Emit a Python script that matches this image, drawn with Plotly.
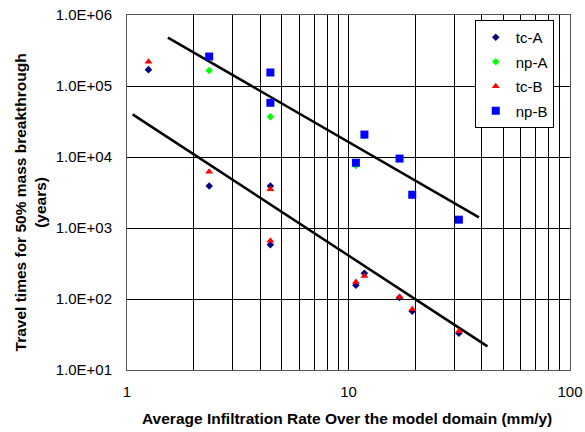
import plotly.graph_objects as go

# Data
tcA_x = [1.25, 2.35, 4.44, 4.44, 10.8, 11.8, 17.0, 19.4, 31.5]
tcA_y = [1.7e5, 3.9e3, 3.9e3, 5.8e2, 1.56e2, 2.3e2, 1.05e2, 67, 33]
npA_x = [2.35, 4.44, 10.8, 11.8, 17.0, 19.4, 31.5]
npA_y = [1.65e5, 3.7e4, 7.6e3, 2.0e4, 9.5e3, 2.9e3, 1.3e3]
tcB_x = [1.25, 2.35, 4.44, 4.44, 10.8, 11.8, 17.0, 19.4, 31.5]
tcB_y = [2.2e5, 6.2e3, 3.5e3, 6.6e2, 1.74e2, 2.1e2, 1.07e2, 72, 35]
npB_x = [2.35, 4.44, 4.44, 10.8, 11.8, 17.0, 19.4, 31.5]
npB_y = [2.6e5, 1.55e5, 5.8e4, 8.3e3, 2.07e4, 9.5e3, 2.94e3, 1.31e3]

fit_upper_x = [1.53, 38.8]
fit_upper_y = [4.8e5, 1.41e3]
fit_lower_x = [1.06, 42.4]
fit_lower_y = [3.98e4, 21.5]

y_tickvals = [1e1, 1e2, 1e3, 1e4, 1e5, 1e6]
y_ticktext = ["1.0E+01", "1.0E+02", "1.0E+03", "1.0E+04", "1.0E+05", "1.0E+06"]
x_tickvals = [1, 2, 3, 4, 5, 6, 7, 8, 9, 10, 20, 30, 40, 50, 60, 70, 80, 90, 100]
x_ticktext = ["1", "", "", "", "", "", "", "", "", "10", "", "", "", "", "", "", "", "", "100"]

x_title = "Average Infiltration Rate Over the model domain (mm/y)"
y_title = "Travel times for 50% mass breakthrough<br>(years)"

FONT = "Liberation Sans, Arial, sans-serif"
TICK = 15
TITLE = 15.5

fig = go.Figure()
fig.add_trace(go.Scatter(x=fit_upper_x, y=fit_upper_y, mode="lines",
                         line=dict(color="black", width=2.5), showlegend=False, hoverinfo="skip"))
fig.add_trace(go.Scatter(x=fit_lower_x, y=fit_lower_y, mode="lines",
                         line=dict(color="black", width=2.5), showlegend=False, hoverinfo="skip"))

fig.add_trace(go.Scatter(x=tcA_x, y=tcA_y, mode="markers", name="tc-A", legendgroup="a",
                         marker=dict(symbol="diamond", color="#000080", size=5.8)))
fig.add_trace(go.Scatter(x=npA_x, y=npA_y, mode="markers", name="np-A", legendgroup="b",
                         marker=dict(symbol="diamond", color="#00FF00", size=5.8)))
fig.add_trace(go.Scatter(x=tcB_x, y=tcB_y, mode="markers", name="tc-B", legendgroup="c",
                         marker=dict(symbol="triangle-up", color="#FF0000", size=7)))
fig.add_trace(go.Scatter(x=npB_x, y=npB_y, mode="markers", name="np-B", legendgroup="d",
                         marker=dict(symbol="square", color="#0000FF", size=8)))

fig.update_layout(
    width=585, height=432,
    margin=dict(l=127, r=15, t=15, b=62),
    paper_bgcolor="white", plot_bgcolor="white",
    font=dict(family=FONT, size=TICK, color="black"),
    legend=dict(x=0.785, y=0.986, xanchor="left", yanchor="top",
                bgcolor="white", bordercolor="black", borderwidth=1,
                font=dict(family=FONT, size=TICK), itemwidth=30,
                tracegroupgap=2, traceorder="grouped"),
    annotations=[
        dict(text="<b>" + x_title + "</b>", xref="paper", yref="paper",
             x=0.497, y=-0.138, xanchor="center", yanchor="middle", showarrow=False,
             font=dict(family=FONT, size=TITLE)),
        dict(text="<b>" + y_title + "</b>", xref="paper", yref="paper",
             x=-0.219, y=0.472, xanchor="center", yanchor="middle", showarrow=False,
             textangle=-90, font=dict(family=FONT, size=TITLE)),
    ],
)
fig.update_xaxes(type="log", range=[0, 2], tickvals=x_tickvals, ticktext=x_ticktext,
                 showgrid=True, gridcolor="black", gridwidth=1,
                 showline=True, linecolor="#555555", linewidth=1, mirror=True,
                 ticks="", ticklabelstandoff=8, tickfont=dict(size=TICK),
                 ticklabeloverflow="allow",
                 automargin=False, zeroline=False)
fig.update_yaxes(type="log", range=[1, 6], tickvals=y_tickvals, ticktext=y_ticktext,
                 showgrid=True, gridcolor="black", gridwidth=1,
                 showline=True, linecolor="#555555", linewidth=1, mirror=True,
                 ticks="", ticklabelstandoff=11, tickfont=dict(size=TICK),
                 ticklabeloverflow="allow",
                 automargin=False, zeroline=False)

fig.write_html("out.html", config={"displayModeBar": False},
               post_script="document.body.style.margin='0px';document.body.style.overflow='hidden';")
